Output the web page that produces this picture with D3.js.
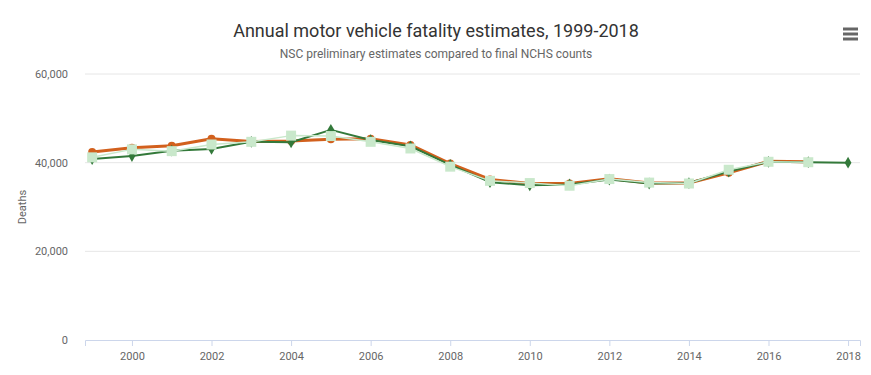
<!DOCTYPE html>
<html>
<head>
<meta charset="utf-8">
<script src="https://cdn.jsdelivr.net/npm/d3@7"></script>
<style>
  body { margin: 0; background: #fff; }
  text { font-family: Roboto, "Noto Sans", sans-serif; }
</style>
</head>
<body>
<div id="chart"></div>
<script>
// data
const years = [1999, 2000, 2001, 2002, 2003, 2004, 2005, 2006, 2007, 2008,
  2009, 2010, 2011, 2012, 2013, 2014, 2015, 2016, 2017, 2018];
// orange, thick line with circles
const nchsFinal = [42400, 43350, 43800, 45400, 44750, 44900, 45300, 45400, 44000, 39800,
  36200, 35300, 35300, 36400, 35400, 35400, 37700, 40300, 40200, null];
// dark green, diamonds
const nscEstimate = [40800, 41500, 42700, 43100, 44700, 44600, 47400, 45100, 43700, 39500,
  35600, 34900, 35100, 36200, 35300, 35400, 38000, 40200, 40100, 40000];
// light green, squares
const nscRevised = [41200, 43000, 42600, 44100, 44700, 46100, 46000, 44700, 43200, 39100,
  35900, 35400, 34800, 36300, 35500, 35300, 38400, 40200, 40100, null];
const xTicks = [2000, 2002, 2004, 2006, 2008, 2010, 2012, 2014, 2016, 2018];
const yTicks = [0, 20000, 40000, 60000];

const svgWidth = 871;
const svgHeight = 375;
const margin = { top: 74, right: 11, bottom: 35, left: 85 };
const width = svgWidth - margin.left - margin.right;
const height = svgHeight - margin.top - margin.bottom;

const svg = d3.select("#chart")
  .append("svg")
  .attr("width", svgWidth)
  .attr("height", svgHeight);

// titles
svg.append("text")
  .attr("x", 436).attr("y", 37)
  .attr("text-anchor", "middle")
  .attr("font-size", "18px")
  .attr("fill", "#333")
  .text("Annual motor vehicle fatality estimates, 1999-2018");
svg.append("text")
  .attr("x", 436).attr("y", 58)
  .attr("text-anchor", "middle")
  .attr("font-size", "12px")
  .attr("fill", "#666")
  .text("NSC preliminary estimates compared to final NCHS counts");

// menu icon
svg.append("g")
  .selectAll("line")
  .data([0, 5, 10])
  .enter()
  .append("line")
  .attr("x1", 843).attr("x2", 858)
  .attr("y1", d => 29 + d).attr("y2", d => 29 + d)
  .attr("stroke", "#666")
  .attr("stroke-width", 3);

const chartGroup = svg.append("g")
  .attr("transform", `translate(${margin.left},${margin.top})`);

const xScale = d3.scaleLinear()
  .domain([1998.82, 2018.3])
  .range([0, width]);
const yScale = d3.scaleLinear()
  .domain([0, 60000])
  .range([height, 0]);

// gridlines
chartGroup.append("g")
  .selectAll("line")
  .data(yTicks.slice(1))
  .enter()
  .append("line")
  .attr("x1", 0).attr("x2", width)
  .attr("y1", d => yScale(d)).attr("y2", d => yScale(d))
  .attr("stroke", "#e6e6e6");

// y axis
const yAxis = chartGroup.append("g")
  .call(d3.axisLeft(yScale).tickValues(yTicks).tickSize(0).tickPadding(17)
    .tickFormat(d3.format(",")));
yAxis.select(".domain").remove();
yAxis.selectAll("text").attr("font-size", "11px").attr("fill", "#666")
  .attr("font-family", "Roboto, sans-serif");

// x axis
const xAxis = chartGroup.append("g")
  .attr("transform", `translate(0,${height})`)
  .call(d3.axisBottom(xScale).tickValues(xTicks).tickSize(6).tickPadding(6)
    .tickFormat(d3.format("d")));
xAxis.select(".domain").attr("stroke", "#ccd6eb");
xAxis.selectAll(".tick line").attr("stroke", "#ccd6eb");
xAxis.selectAll("text").attr("font-size", "11px").attr("fill", "#666")
  .attr("font-family", "Roboto, sans-serif");

svg.append("text")
  .attr("transform", `translate(26,${margin.top + height / 2}) rotate(-90)`)
  .attr("text-anchor", "middle")
  .attr("font-size", "11px")
  .attr("fill", "#666")
  .text("Deaths");

function drawSeries(values, color, lineWidth, symbol, size) {
  const pts = years.map((y, i) => ({ year: y, value: values[i] }))
    .filter(d => d.value != null);
  const line = d3.line()
    .x(d => xScale(d.year))
    .y(d => yScale(d.value));
  chartGroup.append("path")
    .datum(pts)
    .attr("fill", "none")
    .attr("stroke", color)
    .attr("stroke-width", lineWidth)
    .attr("stroke-linejoin", "round")
    .attr("d", line);
  chartGroup.append("g")
    .selectAll("path")
    .data(pts)
    .enter()
    .append("path")
    .attr("transform", d => `translate(${xScale(d.year)},${yScale(d.value)})`)
    .attr("d", d3.symbol().type(symbol).size(size))
    .attr("fill", color);
}

drawSeries(nchsFinal, "#d2601d", 3, d3.symbolCircle, 50);
drawSeries(nscEstimate, "#33793a", 2, d3.symbolDiamond, 40);
drawSeries(nscRevised, "#c9e8cb", 1.5, d3.symbolSquare, 100);
</script>
</body>
</html>
